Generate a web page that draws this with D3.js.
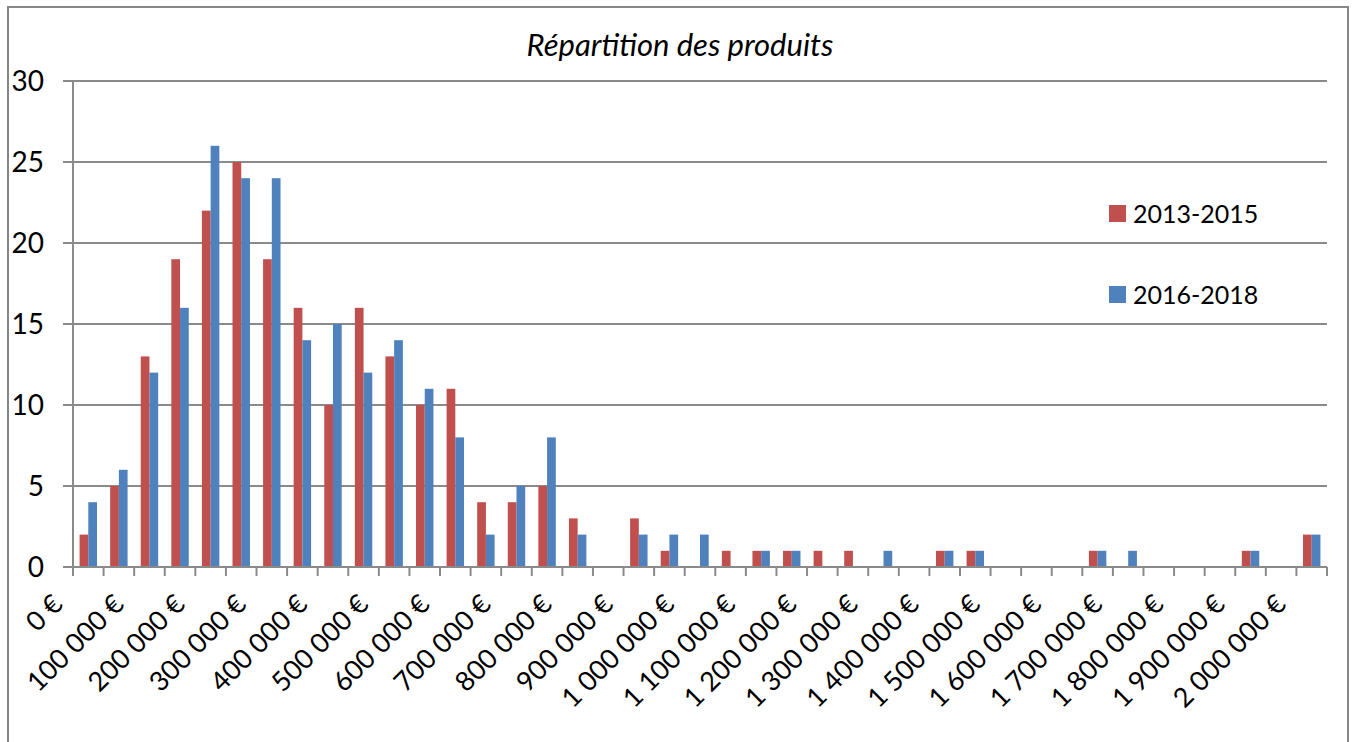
<!DOCTYPE html>
<html>
<head>
<meta charset="utf-8">
<script type="text/javascript" src="https://cdn.jsdelivr.net/npm/d3@7"></script>
<style>
  body { margin: 0; background: white; }
  text { font-family: Lato, "Open Sans", sans-serif; fill: #000; }
</style>
</head>
<body>
<script>

var width = 1355,
    height = 742;

// categories: price buckets, every 50 000 €
var buckets = d3.range(0, 2000001, 50000);

var seriesNames = ["2013-2015", "2016-2018"];
var seriesColors = ["#C0504D", "#4F81BD"];

var values2013 = [2, 5, 13, 19, 22, 25, 19, 16, 10, 16,
                  13, 10, 11, 4, 4, 5, 3, 0, 3, 1,
                  0, 1, 1, 1, 1, 1, 0, 0, 1, 1,
                  0, 0, 0, 1, 0, 0, 0, 0, 1, 0,
                  2];
var values2016 = [4, 6, 12, 16, 26, 24, 24, 14, 15, 12,
                  14, 11, 8, 2, 5, 8, 2, 0, 2, 2,
                  2, 0, 1, 1, 0, 0, 1, 0, 1, 1,
                  0, 0, 0, 1, 1, 0, 0, 0, 1, 0,
                  2];

var yTicks = [0, 5, 10, 15, 20, 25, 30];

var margin = {left: 73, right: 1327, top: 81, bottom: 567};

var svg = d3.select("body")
            .append("svg")
            .attr("width", width)
            .attr("height", height);

// outer chart frame
svg.append("rect")
   .attr("x", 8).attr("y", 7)
   .attr("width", 1340).attr("height", 760)
   .style("fill", "white")
   .style("stroke", "#878787")
   .style("stroke-width", 2);

var x = d3.scaleBand()
          .domain(buckets)
          .range([margin.left, margin.right])
          .paddingInner(0.43)
          .paddingOuter(0.215);

var xSub = d3.scaleBand()
             .domain(seriesNames)
             .range([0, x.bandwidth()]);

var y = d3.scaleLinear()
          .domain([0, 30])
          .range([margin.bottom, margin.top]);

// gridlines
svg.append("g")
   .selectAll("line")
   .data(yTicks)
   .enter()
   .append("line")
   .attr("x1", margin.left - 10)
   .attr("x2", margin.right)
   .attr("y1", function (d) { return y(d); })
   .attr("y2", function (d) { return y(d); })
   .style("stroke", "#8a8a8a")
   .style("stroke-width", 2);

// y axis line
svg.append("line")
   .attr("x1", margin.left).attr("x2", margin.left)
   .attr("y1", margin.top).attr("y2", margin.bottom)
   .style("stroke", "#8a8a8a")
   .style("stroke-width", 2);

// y labels
svg.append("g")
   .selectAll("text")
   .data(yTicks)
   .enter()
   .append("text")
   .attr("x", 44)
   .attr("y", function (d) { return y(d); })
   .attr("dy", "0.36em")
   .attr("text-anchor", "end")
   .style("font-size", "28px")
   .text(function (d) { return d; });

// x tick marks at category boundaries
var step = x.step();
svg.append("g")
   .selectAll("line")
   .data(d3.range(buckets.length + 1))
   .enter()
   .append("line")
   .attr("x1", function (i) { return margin.left + i * step; })
   .attr("x2", function (i) { return margin.left + i * step; })
   .attr("y1", margin.bottom)
   .attr("y2", margin.bottom + 9)
   .style("stroke", "#8a8a8a")
   .style("stroke-width", 2);

// bars
var series = [values2013, values2016];
series.forEach(function (vals, s) {
  var pts = vals.map(function (v, i) { return {b: buckets[i], v: v}; })
                .filter(function (d) { return d.v > 0; });
  svg.append("g")
     .selectAll("rect")
     .data(pts)
     .enter()
     .append("rect")
     .attr("x", function (d) { return x(d.b) + xSub(seriesNames[s]); })
     .attr("width", xSub.bandwidth())
     .attr("y", function (d) { return y(d.v); })
     .attr("height", function (d) { return y(0) - y(d.v); })
     .style("fill", seriesColors[s]);
});

// x axis baseline
svg.append("line")
   .attr("x1", margin.left - 10).attr("x2", margin.right)
   .attr("y1", margin.bottom).attr("y2", margin.bottom)
   .style("stroke", "#8a8a8a")
   .style("stroke-width", 2);

// x labels, every other bucket
var fmt = function (v) {
  return String(v).replace(/\B(?=(\d{3})+(?!\d))/g, " ") + " €";
};
svg.append("g")
   .selectAll("text")
   .data(buckets.filter(function (d, i) { return i % 2 === 0; }))
   .enter()
   .append("text")
   .attr("text-anchor", "end")
   .attr("transform", function (d) {
     var cx = x(d) + x.bandwidth() / 2 - 24;
     return "translate(" + cx + ",606) rotate(-45)";
   })
   .style("font-size", "27px")
   .text(fmt);

// title
svg.append("text")
   .attr("x", 680)
   .attr("y", 56)
   .attr("text-anchor", "middle")
   .style("font-size", "31px")
   .style("font-style", "italic")
   .text("Répartition des produits");

// legend
var legend = svg.append("g")
                .selectAll("g")
                .data(seriesNames)
                .enter()
                .append("g")
                .attr("transform", function (d, i) { return "translate(1109," + (205 + i * 81) + ")"; });
legend.append("rect")
      .attr("width", 17).attr("height", 17)
      .style("fill", function (d, i) { return seriesColors[i]; });
legend.append("text")
      .attr("x", 24)
      .attr("y", 8.5)
      .attr("dy", "0.36em")
      .style("font-size", "25px")
      .text(function (d) { return d; });

</script>
</body>
</html>
